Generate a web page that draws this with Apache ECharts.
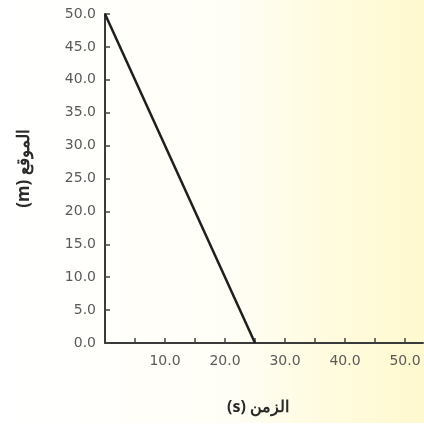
<!DOCTYPE html>
<html><head><meta charset="utf-8">
<style>html,body{margin:0;padding:0;}#c{width:424px;height:423px;}</style>
<script src="https://cdn.jsdelivr.net/npm/echarts@6/dist/echarts.min.js"></script>
</head><body><div id="c"></div>
<script>
const timeValues = [0, 25];
const positionValues = [50, 0];
const xTickValues = [5, 10, 15, 20, 25, 30, 35, 40, 45, 50];
const xLabelValues = [10, 20, 30, 40, 50];
const yTickValues = [0, 5, 10, 15, 20, 25, 30, 35, 40, 45, 50];
const xTitle = '(s) الزمن';
const yTitle = '(m) الموقع';

const chart = echarts.init(document.getElementById('c'));
chart.setOption({
  animation: false,
  backgroundColor: new echarts.graphic.LinearGradient(0, 0, 1, 0, [
    {offset: 0, color: '#ffffff'},
    {offset: 0.55, color: '#fffef6'},
    {offset: 0.75, color: '#fffbe0'},
    {offset: 1, color: '#fff9cf'}
  ]),
  grid: {left: 105, top: 14, width: 318, height: 329},
  xAxis: {
    type: 'value', min: 0, max: 53,
    axisLine: {show: true, lineStyle: {color: '#3a3a3a', width: 2}},
    axisTick: {show: true, inside: true, length: 5, customValues: xTickValues, lineStyle: {color: '#444', width: 1.5}},
    axisLabel: {customValues: xLabelValues, formatter: v => v.toFixed(1), color: '#5a5a5a', fontSize: 14, fontFamily: 'DejaVu Sans', margin: 11},
    splitLine: {show: false},
    name: xTitle, nameLocation: 'middle', nameGap: 56,
    nameTextStyle: {color: '#2a2a2a', fontSize: 16, fontWeight: 'bold', fontFamily: 'Noto Sans', padding: [0, 12, 0, 0]}
  },
  yAxis: {
    type: 'value', min: 0, max: 50,
    axisLine: {show: true, lineStyle: {color: '#3a3a3a', width: 2}},
    axisTick: {show: true, inside: true, length: 5, customValues: yTickValues, lineStyle: {color: '#444', width: 1.5}},
    axisLabel: {customValues: yTickValues, formatter: v => v.toFixed(1), color: '#5a5a5a', fontSize: 14, fontFamily: 'DejaVu Sans', margin: 9},
    splitLine: {show: false},
    name: yTitle, nameLocation: 'middle', nameGap: 72, nameRotate: 90,
    nameTextStyle: {color: '#2a2a2a', fontSize: 17, fontWeight: 'bold', fontFamily: 'Noto Sans', padding: [0, 0, 0, 20]}
  },
  series: [{
    type: 'line',
    data: timeValues.map((t, i) => [t, positionValues[i]]),
    symbol: 'none',
    lineStyle: {color: '#1e1e1e', width: 2.5}
  }]
});
</script></body></html>
